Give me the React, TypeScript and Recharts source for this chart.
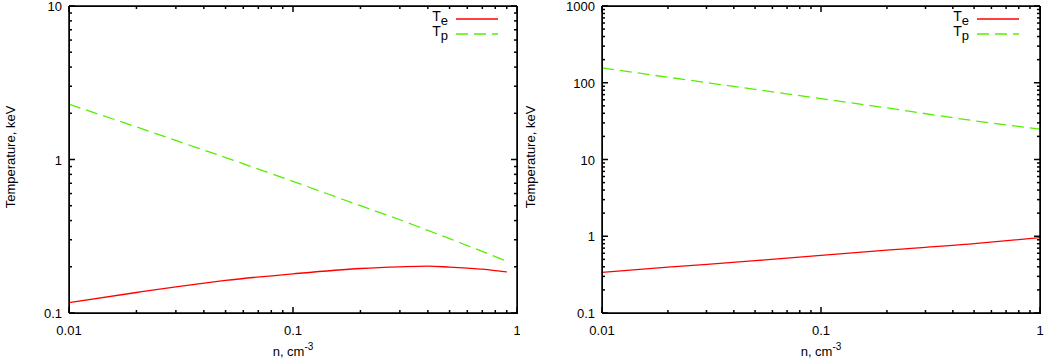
import React from "react";
import { LineChart, Line, XAxis, YAxis } from "recharts";

// left panel
const nLeft = [0.01, 0.02, 0.03, 0.05, 0.1, 0.2, 0.3, 0.4, 0.5, 0.6, 0.7, 0.8, 0.9];
const teLeft = [0.117, 0.136, 0.148, 0.163, 0.18, 0.195, 0.2, 0.202, 0.199, 0.196, 0.193, 0.189, 0.185];
const tpLeft = [2.29, 1.63, 1.33, 1.03, 0.72, 0.5, 0.405, 0.345, 0.305, 0.275, 0.252, 0.233, 0.217];

// right panel
const nRight = [0.01, 0.02, 0.05, 0.1, 0.2, 0.5, 1];
const teRight = [0.338, 0.395, 0.48, 0.565, 0.66, 0.8, 0.96];
const tpRight = [156, 118, 82, 62, 47, 32, 24.9];

const X_MAJOR = [0.01, 0.1, 1];
const Y_MAJOR_LEFT = [0.1, 1, 10];
const Y_MAJOR_RIGHT = [0.1, 1, 10, 100, 1000];

const RED = "#ff0000";
const GREEN = "#55ee00";
const FONT = "'Liberation Sans', Arial, sans-serif";

const TOP = 5;
const X_AXIS_H = 48;
const CHART_H = 361;

// major decades plus 2..9 minor ticks in between
function withMinor(major: number[]) {
  const out: number[] = [];
  major.forEach((m, i) => {
    out.push(m);
    if (i < major.length - 1) for (let k = 2; k <= 9; k++) out.push(+(m * k).toPrecision(3));
  });
  return out;
}

const isMajor = (v: number, major: number[]) => major.some((m) => Math.abs(m - v) < m * 1e-6);

function BottomTick({ x, y, payload }: any) {
  const major = isMajor(payload.value, X_MAJOR);
  const len = major ? 6 : 3;
  return (
    <g>
      <line x1={x} y1={y} x2={x} y2={y - len} stroke="#000" strokeWidth={1.5} />
      {major && (
        <text x={x} y={y + 22} textAnchor="middle" fontSize={13} fontFamily={FONT} fill="#000">
          {payload.value}
        </text>
      )}
    </g>
  );
}

function TopTick({ x, y, payload }: any) {
  const len = isMajor(payload.value, X_MAJOR) ? 6 : 3;
  return <line x1={x} y1={y} x2={x} y2={y + len} stroke="#000" strokeWidth={1.5} />;
}

const makeLeftTick = (majors: number[]) =>
  function LeftTick({ x, y, payload }: any) {
    const major = isMajor(payload.value, majors);
    const len = major ? 6 : 3;
    return (
      <g>
        <line x1={x} y1={y} x2={x + len} y2={y} stroke="#000" strokeWidth={1.5} />
        {major && (
          <text x={x - 7} y={y + 5} textAnchor="end" fontSize={13} fontFamily={FONT} fill="#000">
            {payload.value}
          </text>
        )}
      </g>
    );
  };

const makeRightTick = (majors: number[]) =>
  function RightTick({ x, y, payload }: any) {
    const len = isMajor(payload.value, majors) ? 6 : 3;
    return <line x1={x} y1={y} x2={x - len} y2={y} stroke="#000" strokeWidth={1.5} />;
  };

function LegendBox({ right }: { right: number }) {
  const row = (sub: string, color: string, dash?: string) => (
    <div style={{ display: "flex", alignItems: "center", height: 15, justifyContent: "flex-end" }}>
      <span style={{ fontSize: 14, fontFamily: FONT, color: "#000", lineHeight: "13px" }}>
        T<sub style={{ fontSize: 13, verticalAlign: "-4px" }}>{sub}</sub>
      </span>
      <svg width={50} height={6} style={{ marginLeft: 7 }}>
        <line x1={1} y1={3} x2={43} y2={3} stroke={color} strokeWidth={1.3} strokeDasharray={dash} />
      </svg>
    </div>
  );
  return (
    <div style={{ position: "absolute", top: 11, right, width: 120, pointerEvents: "none" }}>
      {row("e", RED)}
      {row("p", GREEN, "12 6")}
    </div>
  );
}

function Titles({ yAxisWidth, plotRight }: { yAxisWidth: number; plotRight: number }) {
  const cx = (yAxisWidth + plotRight) / 2;
  return (
    <>
      <div style={{
        position: "absolute", left: 10, top: 157, width: 0, height: 0,
        fontSize: 13, fontFamily: FONT, color: "#000", whiteSpace: "nowrap",
      }}>
        <div style={{ position: "absolute", transform: "translate(-50%, -50%) rotate(-90deg)" }}>Temperature, keV</div>
      </div>
      <div style={{
        position: "absolute", left: cx, top: 344, transform: "translateX(-50%)",
        fontSize: 13, fontFamily: FONT, color: "#000", whiteSpace: "nowrap",
      }}>
        n, cm<sup style={{ fontSize: 10, verticalAlign: "6px", lineHeight: 0 }}>-3</sup>
      </div>
    </>
  );
}

const AXIS_LINE = { stroke: "#000", strokeWidth: 1.5 };

function Panel({
  n, te, tp, yMajor, width, yAxisWidth, right, legendRight,
}: {
  n: number[]; te: number[]; tp: number[]; yMajor: number[];
  width: number; yAxisWidth: number; right: number; legendRight: number;
}) {
  const data = n.map((v, i) => ({ n: v, te: te[i], tp: tp[i] }));
  const xTicks = withMinor(X_MAJOR);
  const yTicks = withMinor(yMajor);
  const yMin = yMajor[0];
  const yMax = yMajor[yMajor.length - 1];
  const plotLeft = yAxisWidth;
  const plotRight = width - right - 1;
  const plotTop = TOP + 1;
  const plotBottom = CHART_H - X_AXIS_H;
  return (
    <div style={{ position: "relative", width, height: CHART_H }}>
      <LineChart width={width} height={CHART_H} data={data} margin={{ top: TOP, right, left: 0, bottom: 0 }}>
        <XAxis
          dataKey="n" type="number" scale="log" domain={[0.01, 1]} allowDataOverflow
          ticks={xTicks} interval={0} tickSize={0} tickMargin={0} tickLine={false}
          height={X_AXIS_H} axisLine={AXIS_LINE} tick={<BottomTick />}
        />
        <XAxis
          xAxisId="top" orientation="top" dataKey="n" type="number" scale="log" domain={[0.01, 1]}
          allowDataOverflow ticks={xTicks} interval={0} tickSize={0} tickMargin={0} tickLine={false}
          height={1} axisLine={AXIS_LINE} tick={<TopTick />}
        />
        <YAxis
          type="number" scale="log" domain={[yMin, yMax]} allowDataOverflow ticks={yTicks} interval={0}
          tickSize={0} tickMargin={0} tickLine={false} width={yAxisWidth}
          axisLine={AXIS_LINE} tick={React.createElement(makeLeftTick(yMajor))}
        />
        <YAxis
          yAxisId="right" orientation="right" type="number" scale="log" domain={[yMin, yMax]}
          allowDataOverflow ticks={yTicks} interval={0} tickSize={0} tickMargin={0} tickLine={false}
          width={1} axisLine={AXIS_LINE} tick={React.createElement(makeRightTick(yMajor))}
        />
        <Line dataKey="te" name="Te" stroke={RED} strokeWidth={1.3} dot={false} type="monotone" isAnimationActive={false} />
        <Line dataKey="tp" name="Tp" stroke={GREEN} strokeWidth={1.3} strokeDasharray="12 6" dot={false} type="monotone" isAnimationActive={false} />
      </LineChart>
      {/* plot frame */}
      <div style={{
        position: "absolute", left: plotLeft, top: plotTop, width: plotRight - plotLeft + 1,
        height: plotBottom - plotTop + 1, border: "1px solid #000", boxSizing: "border-box", pointerEvents: "none",
      }} />
      <Titles yAxisWidth={yAxisWidth} plotRight={plotRight} />
      <LegendBox right={legendRight} />
    </div>
  );
}

export default function App() {
  return (
    <div style={{ position: "absolute", left: 0, top: 0, width: 1044, height: 361, display: "flex" }}>
      <Panel n={nLeft} te={teLeft} tp={tpLeft} yMajor={Y_MAJOR_LEFT} width={520} yAxisWidth={69} right={2} legendRight={15} />
      <Panel n={nRight} te={teRight} tp={tpRight} yMajor={Y_MAJOR_RIGHT} width={524} yAxisWidth={82} right={3} legendRight={18} />
    </div>
  );
}
